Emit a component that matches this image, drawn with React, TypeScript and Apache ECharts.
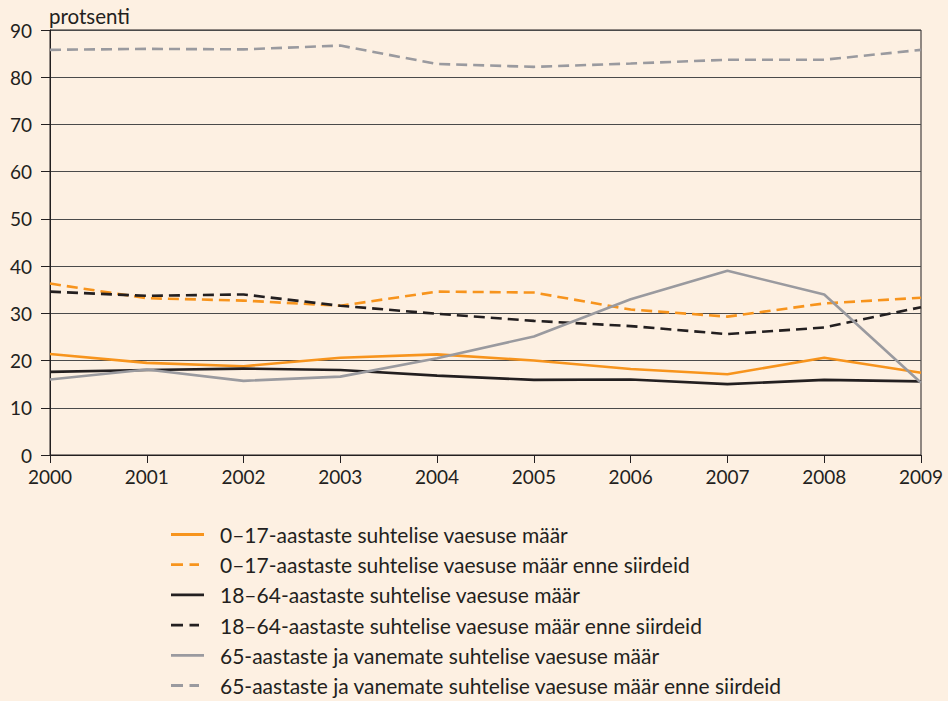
import React, { useEffect, useRef } from "react";
import * as echarts from "echarts";

const years = ["2000", "2001", "2002", "2003", "2004", "2005", "2006", "2007", "2008", "2009"];
const yTicks = [0, 10, 20, 30, 40, 50, 60, 70, 80, 90];
const unitLabel = "protsenti";

const names = [
  "0–17-aastaste suhtelise vaesuse määr",
  "0–17-aastaste suhtelise vaesuse määr enne siirdeid",
  "18–64-aastaste suhtelise vaesuse määr",
  "18–64-aastaste suhtelise vaesuse määr enne siirdeid",
  "65-aastaste ja vanemate suhtelise vaesuse määr",
  "65-aastaste ja vanemate suhtelise vaesuse määr enne siirdeid",
];

const child = [21.4, 19.5, 18.8, 20.6, 21.3, 20.0, 18.2, 17.1, 20.6, 17.4];
const childBefore = [36.3, 33.2, 32.7, 31.6, 34.6, 34.4, 30.8, 29.3, 32.1, 33.3];
const adult = [17.6, 18.0, 18.3, 18.0, 16.8, 15.9, 16.0, 15.0, 15.9, 15.6];
const adultBefore = [34.6, 33.7, 34.0, 31.6, 29.9, 28.4, 27.3, 25.6, 27.0, 31.3];
const elderly = [16.0, 18.1, 15.7, 16.6, 20.5, 25.1, 33.0, 39.0, 34.0, 15.3];
const elderlyBefore = [85.8, 86.0, 85.9, 86.7, 82.8, 82.2, 82.9, 83.7, 83.7, 85.8];

const ORANGE = "#f7941d";
const BLACK = "#231f20";
const GRAY = "#9a9a9f";
const FONT = "Lato, 'Noto Sans', sans-serif";

const SOLID_ICON = "path://M0,0h33v2.8h-33z";
const DASH_ICON = "path://M0,0h12v2.8h-12z M18.5,0h9.5v2.8h-9.5z M32.9,0h0.1v0.1h-0.1z";

export default function App() {
  const ref = useRef<HTMLDivElement>(null);
  useEffect(() => {
    if (!ref.current) return;
    const chart = echarts.init(ref.current, undefined, { renderer: "svg" });
    const mk = (i: number, data: number[], color: string, dashed: boolean) => ({
      name: names[i],
      type: "line",
      data,
      symbol: "none",
      smooth: false,
      lineStyle: { color, width: 2.6, type: dashed ? [11, 6] : "solid" },
      itemStyle: { color },
      z: 3,
    });
    chart.setOption({
      animation: false,
      backgroundColor: "transparent",
      textStyle: { fontFamily: FONT },
      grid: {
        left: 50,
        right: 27,
        top: 30,
        bottom: 246,
        show: true,
        borderColor: BLACK,
        borderWidth: 1,
        backgroundColor: "transparent",
      },
      title: {
        text: unitLabel,
        left: 44,
        top: 0,
        textStyle: { fontFamily: FONT, fontSize: 20.5, fontWeight: "normal", color: BLACK },
      },
      legend: {
        orient: "vertical",
        left: 166,
        top: 519,
        height: 300,
        itemWidth: 33,
        itemHeight: 14,
        itemGap: 9.2,
        symbolKeepAspect: true,
        textStyle: {
          fontFamily: FONT,
          fontSize: 21,
          color: BLACK,
          lineHeight: 20,
          height: 20,
          padding: [0, 0, 0, 11],
        },
        data: names.map((n, i) => ({ name: n, icon: i % 2 === 0 ? SOLID_ICON : DASH_ICON })),
      },
      xAxis: {
        type: "category",
        data: years,
        boundaryGap: false,
        axisLine: { show: true, lineStyle: { color: BLACK, width: 1 } },
        axisTick: { show: true, length: 8, alignWithLabel: true, lineStyle: { color: BLACK } },
        axisLabel: { fontFamily: FONT, fontSize: 19, color: BLACK, margin: 12 },
        splitLine: { show: false },
      },
      yAxis: {
        type: "value",
        min: 0,
        max: 90,
        interval: 10,
        axisLine: { show: true, lineStyle: { color: BLACK, width: 1 } },
        axisTick: { show: true, length: 9, lineStyle: { color: BLACK } },
        axisLabel: {
          fontFamily: FONT,
          fontSize: 19,
          color: BLACK,
          margin: 18,
          formatter: (v: number) => (yTicks.includes(v) ? String(v) : ""),
        },
        splitLine: { show: true, lineStyle: { color: "#4a4a4a", width: 1 } },
      },
      series: [
        mk(0, child, ORANGE, false),
        mk(1, childBefore, ORANGE, true),
        mk(2, adult, BLACK, false),
        mk(3, adultBefore, BLACK, true),
        mk(4, elderly, GRAY, false),
        mk(5, elderlyBefore, GRAY, true),
      ],
    });
    return () => chart.dispose();
  }, []);
  return (
    <div
      style={{
        position: "fixed",
        left: 0,
        top: 0,
        width: 948,
        height: 701,
        background: "#fdf0e2",
      }}
    >
      <div ref={ref} style={{ width: 948, height: 701 }} />
    </div>
  );
}
